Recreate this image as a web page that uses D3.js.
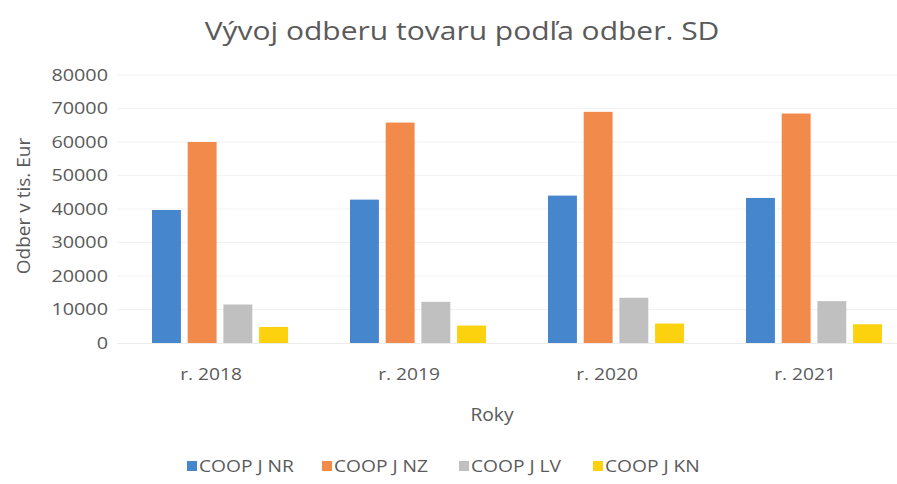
<!DOCTYPE html>
<html>
<head>
<meta charset="utf-8">
<script src="https://cdn.jsdelivr.net/npm/d3@7"></script>
<style>
  body { margin: 0; background: #fff; }
  text { font-family: "Open Sans", Lato, sans-serif; fill: #5a5a5a; }
</style>
</head>
<body>
<svg id="chart" width="897" height="484"></svg>
<script>
var years = ['r. 2018', 'r. 2019', 'r. 2020', 'r. 2021'];
var seriesNames = ['COOP J NR', 'COOP J NZ', 'COOP J LV', 'COOP J KN'];
var coopNR = [39700, 42800, 44000, 43300];
var coopNZ = [60000, 65800, 69000, 68500];
var coopLV = [11500, 12300, 13500, 12500];
var coopKN = [4800, 5200, 5800, 5600];
var yTicks = [0, 10000, 20000, 30000, 40000, 50000, 60000, 70000, 80000];
var colors = ['#4586cc', '#f28a4c', '#c0c0c0', '#fcd20e'];

const seriesValues = [coopNR, coopNZ, coopLV, coopKN];
const svg = d3.select('#chart');
const groupW = 136;
const wide = 'scale(1.2,1)';   // the text in the scan is stretched sideways

const x0 = d3.scaleBand().domain(years).range([121, 913]);
const x1 = d3.scaleBand().domain(seriesNames).range([0, groupW]).paddingInner(0.19);
const y = d3.scaleLinear().domain([0, 80000]).range([343, 75]);

// gridlines
svg.append('g')
  .selectAll('line')
  .data(yTicks.slice(1))
  .enter()
  .append('line')
  .attr('x1', 117).attr('x2', 897)
  .attr('y1', d => y(d)).attr('y2', d => y(d))
  .attr('stroke', '#f2f2f2');

// y axis labels
const yAxis = svg.append('g')
  .attr('transform', 'translate(108,0)')
  .call(d3.axisLeft(y).tickValues(yTicks).tickSize(0).tickPadding(0).tickFormat(d3.format('d')));
yAxis.select('.domain').remove();
yAxis.selectAll('text')
  .style('font-size', '16.5px')
  .attr('transform', wide)
  .attr('fill', '#5a5a5a');

// bars
const groups = svg.append('g')
  .selectAll('g')
  .data(years)
  .enter()
  .append('g')
  .attr('transform', d => `translate(${x0(d) + (x0.bandwidth() - groupW) / 2},0)`);

groups.selectAll('rect')
  .data((d, i) => seriesNames.map((s, j) => ({ s: s, v: seriesValues[j][i], c: colors[j] })))
  .enter()
  .append('rect')
  .attr('x', d => x1(d.s))
  .attr('width', x1.bandwidth())
  .attr('y', d => y(d.v))
  .attr('height', d => y(0) - y(d.v))
  .attr('fill', d => d.c);

// x axis line
svg.append('line')
  .attr('x1', 117).attr('x2', 897)
  .attr('y1', y(0) + 0.5).attr('y2', y(0) + 0.5)
  .attr('stroke', '#ececec');

// x axis labels
const xAxis = svg.append('g')
  .attr('transform', `translate(-9,${y(0)})`)
  .call(d3.axisBottom(x0).tickSize(0).tickPadding(26));
xAxis.select('.domain').remove();
xAxis.selectAll('text')
  .style('font-size', '16px')
  .attr('transform', wide)
  .attr('fill', '#5a5a5a');

// title
svg.append('g')
  .attr('transform', 'translate(462,40)')
  .append('text')
  .attr('transform', wide)
  .attr('text-anchor', 'middle')
  .style('font-size', '25px')
  .text('Vývoj odberu tovaru podľa odber. SD');

// axis titles
svg.append('g')
  .attr('transform', 'translate(492,421)')
  .append('text')
  .attr('transform', 'scale(1.1,1)')
  .attr('text-anchor', 'middle')
  .style('font-size', '17.5px')
  .text('Roky');

svg.append('text')
  .attr('transform', 'translate(30,206) rotate(-90)')
  .attr('text-anchor', 'middle')
  .style('font-size', '19px')
  .text('Odber v tis. Eur');

// legend
const legendX = [187, 322, 459, 593];
const legend = svg.append('g')
  .selectAll('g')
  .data(seriesNames)
  .enter()
  .append('g')
  .attr('transform', (d, i) => `translate(${legendX[i]},466)`);
legend.append('rect')
  .attr('x', 0).attr('y', -5)
  .attr('width', 10).attr('height', 10)
  .attr('fill', (d, i) => colors[i]);
legend.append('text')
  .attr('x', 10).attr('y', 5.5)
  .attr('transform', wide)
  .style('font-size', '16px')
  .text(d => d);
</script>
</body>
</html>
